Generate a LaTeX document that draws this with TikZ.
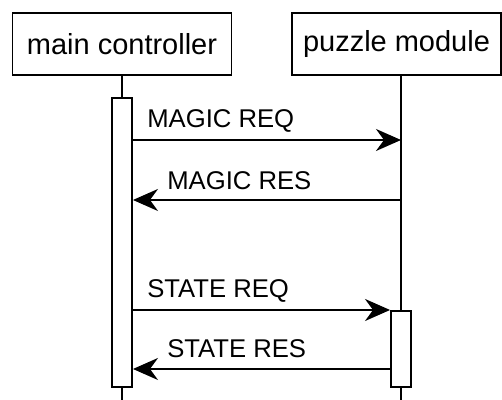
\documentclass[tikz,border=0pt]{standalone}
\usepackage{fontspec}
\setmainfont{Liberation Sans}
\usetikzlibrary{arrows.meta,positioning,calc}

\begin{document}
\begin{tikzpicture}[
    actor/.style={draw, line width=1.1pt, minimum height=1.24cm, inner sep=0pt, font=\fontsize{16.5}{19}\selectfont},
    life/.style={line width=1.1pt},
    bar/.style={draw, line width=1.1pt, fill=white, minimum width=0.4cm, inner sep=0pt},
    msg/.style={line width=1.1pt, -{Stealth[length=0.5cm, width=0.44cm, inset=0.16cm]}},
    lbl/.style={anchor=base west, inner sep=0pt, font=\fontsize{14.6}{17}\selectfont}
  ]
    \useasboundingbox (0, 0) rectangle (10.04, 8);

    \node[actor, minimum width=4.38cm] (ctrl) at (2.44, 7.12) {main controller};
    \node[actor, minimum width=4.18cm] (puzzle) at (7.93, 7.12) {puzzle module};

    % lifelines
    \coordinate (pzTop) at (8.02, 6.5);
    \coordinate (pzEnd) at (8.02, 0);
    \draw[life] (ctrl.south) -- (ctrl.south |- pzEnd);
    \draw[life] (pzTop) -- (pzEnd);

    % activation bars
    \node[bar, minimum height=5.78cm, anchor=north] (ctrlBar) at (2.44, 6.06) {};
    \node[bar, minimum height=1.52cm, anchor=north] (pzBar) at (8.02, 1.8) {};

    % messages
    \coordinate (pzReq) at (8.02, 5.2);
    \coordinate (pzRes) at (8.02, 4.0);
    \coordinate (stRes) at (0, 0.62);
    \draw[msg] (ctrlBar.east |- pzReq) -- (pzReq);
    \draw[msg] (pzRes) -- (ctrlBar.east |- pzRes);
    \draw[msg] (ctrlBar.east |- pzBar.north) -- (pzBar.north west);
    \draw[msg] (pzBar.west |- stRes) -- (ctrlBar.east |- stRes);

    \node[lbl] (magicReq) at (2.94, 5.44) {MAGIC REQ};
    \node[lbl] (magicRes) at (3.34, 4.2) {MAGIC RES};
    \node[lbl] (stateReq) at (2.94, 2.04) {STATE REQ};
    \node[lbl] (stateRes) at (3.34, 0.84) {STATE RES};
\end{tikzpicture}
\end{document}
